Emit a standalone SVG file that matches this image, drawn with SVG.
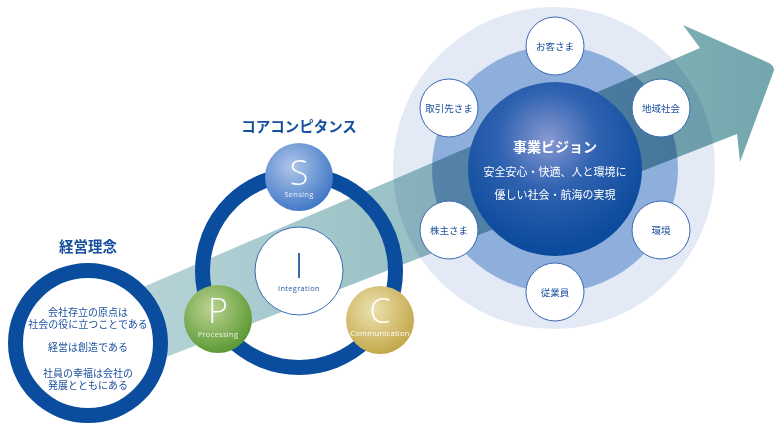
<svg xmlns="http://www.w3.org/2000/svg" width="780" height="427" viewBox="0 0 780 427">
<defs>
<linearGradient id="arrowGrad" x1="120" y1="0" x2="775" y2="0" gradientUnits="userSpaceOnUse">
<stop offset="0" stop-color="#b8d5d8"/>
<stop offset="1" stop-color="#72a7ad"/>
</linearGradient>
<radialGradient id="visionGrad" cx="548" cy="140" r="110" gradientUnits="userSpaceOnUse">
<stop offset="0" stop-color="#8a9ad2"/>
<stop offset="0.45" stop-color="#2f62b0"/>
<stop offset="1" stop-color="#0b4a9c"/>
</radialGradient>
<radialGradient id="sGrad" cx="0.4" cy="0.35" r="0.7">
<stop offset="0" stop-color="#b0c6ea"/>
<stop offset="1" stop-color="#3b74c4"/>
</radialGradient>
<radialGradient id="pGrad" cx="0.4" cy="0.35" r="0.7">
<stop offset="0" stop-color="#bcd394"/>
<stop offset="1" stop-color="#56962e"/>
</radialGradient>
<radialGradient id="cGrad" cx="0.4" cy="0.35" r="0.7">
<stop offset="0" stop-color="#ece2b0"/>
<stop offset="1" stop-color="#c1a444"/>
</radialGradient>
</defs>
<style>
.jp{font-family:"Noto Sans CJK JP","Noto Sans",sans-serif;}
.title{font-size:14.5px;font-weight:bold;fill:#154f9d;text-anchor:middle;}
.ph{font-size:10px;fill:#1a4f9c;text-anchor:middle;}
.stake{font-size:9.5px;fill:#1a4f9c;text-anchor:middle;}
.small{fill:#ffffff;stroke:#3a6ab4;stroke-width:1;}
.vis{fill:#ffffff;text-anchor:middle;}
.big{font-family:"Open Sans","Liberation Sans",sans-serif;font-weight:300;font-size:34px;text-anchor:middle;}
.lbl{font-family:"Open Sans","Liberation Sans",sans-serif;font-size:7.5px;text-anchor:middle;letter-spacing:0.3px;}
.ring{fill:none;stroke:#0a4c9e;stroke-width:15;}
</style>

<g id="vision-bg">
<circle cx="554" cy="168" r="161" fill="#e3e9f5"/>
<circle cx="555" cy="169" r="123" fill="#8eafdb"/>
</g>

<g id="connectors">
<path id="arrow" d="M120 297 L700 48 L683 25 L769 63 Q776 67 773 73 L740 162 L737 134 L120 375 Z" fill="url(#arrowGrad)" style="mix-blend-mode:multiply"/>
</g>

<g id="vision">
<circle cx="555" cy="169" r="87" fill="url(#visionGrad)"/>
<text class="jp vis" x="555" y="152" font-size="14" font-weight="bold">事業ビジョン</text>
<text class="jp vis" x="555" y="176" font-size="11">安全安心・快適、人と環境に</text>
<text class="jp vis" x="555" y="199" font-size="11">優しい社会・航海の実現</text>
</g>

<g id="customers"><circle class="small" cx="555" cy="46" r="29"/><text class="jp stake" x="555" y="49.5">お客さま</text></g>
<g id="partners"><circle class="small" cx="449" cy="108" r="29"/><text class="jp stake" x="449" y="111.5">取引先さま</text></g>
<g id="community"><circle class="small" cx="661" cy="108" r="29"/><text class="jp stake" x="661" y="111.5">地域社会</text></g>
<g id="shareholders"><circle class="small" cx="449" cy="230" r="29"/><text class="jp stake" x="449" y="233.5">株主さま</text></g>
<g id="environment"><circle class="small" cx="661" cy="230" r="29"/><text class="jp stake" x="661" y="233.5">環境</text></g>
<g id="employees"><circle class="small" cx="555" cy="292" r="29"/><text class="jp stake" x="555" y="295.5">従業員</text></g>

<g id="philosophy">
<text class="jp title" x="88" y="252">経営理念</text>
<circle cx="88" cy="343" r="72.5" fill="#ffffff" stroke="#0a4c9e" stroke-width="15"/>
<text class="jp ph" x="88" y="315.5">会社存立の原点は</text>
<text class="jp ph" x="88" y="327.5">社会の役に立つことである</text>
<text class="jp ph" x="88" y="350.5">経営は創造である</text>
<text class="jp ph" x="88" y="376.5">社員の幸福は会社の</text>
<text class="jp ph" x="88" y="388.5">発展とともにある</text>
</g>

<g id="core-competence">
<text class="jp title" x="299" y="132">コアコンピタンス</text>
<circle class="ring" cx="299" cy="271" r="96.5"/>
</g>

<g id="integration">
<circle cx="299" cy="271" r="44" fill="#ffffff" stroke="#3a6ab4" stroke-width="1"/>
<text class="big" x="299" y="278" fill="#1a4f9c" font-weight="400" font-size="36">I</text>
<text class="lbl" x="299" y="291" fill="#2a5ca6">Integration</text>
</g>

<g id="sensing">
<circle cx="299" cy="177" r="34" fill="url(#sGrad)"/>
<text class="big" x="299" y="185" fill="#ffffff">S</text>
<text class="lbl" x="299" y="197" fill="#e8eef8">Sensing</text>
</g>

<g id="processing">
<circle cx="218" cy="319" r="34" fill="url(#pGrad)"/>
<text class="big" x="218" y="323" fill="#ffffff">P</text>
<text class="lbl" x="218" y="337" fill="#eef4e4">Processing</text>
</g>

<g id="communication">
<circle cx="380" cy="320" r="34" fill="url(#cGrad)"/>
<text class="big" x="380" y="323" fill="#ffffff">C</text>
<text class="lbl" x="380" y="336" fill="#ffffff" letter-spacing="0">Communication</text>
</g>
</svg>
